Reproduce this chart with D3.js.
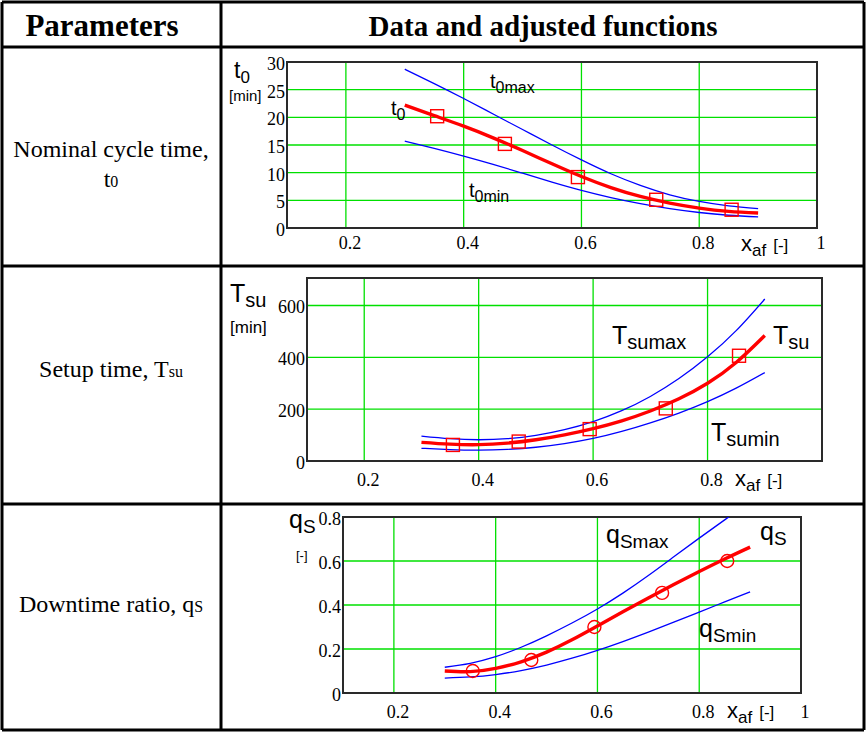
<!DOCTYPE html>
<html>
<head>
<meta charset="utf-8">
<script src="https://cdn.jsdelivr.net/npm/d3@7"></script>
<style>
  body { margin: 0; background: #ffffff; }
  svg { display: block; }
</style>
</head>
<body>
<svg id="chart" width="866" height="732"></svg>
<script>
// Valeurs
const xData = [0.355, 0.47, 0.594, 0.727, 0.855];
const xCurve = [0.3, 0.35, 0.4, 0.45, 0.5, 0.55, 0.6, 0.65, 0.7, 0.75, 0.8, 0.85, 0.9];
const xTickLabels = [0.2, 0.4, 0.6, 0.8];

// Nominal cycle time t0 [min]
const t0Data = [20.2, 15.2, 9.2, 5.1, 3.3];
const t0Fit = [22.2, 20.3, 18.4, 16.3, 14.0, 11.6, 9.3, 7.3, 5.7, 4.5, 3.6, 3.0, 2.7];
const t0Max = [28.7, 26.1, 23.4, 20.6, 17.8, 15.0, 12.3, 9.8, 7.7, 6.0, 4.8, 4.0, 3.5];
const t0Min = [15.7, 14.4, 13.0, 11.5, 9.9, 8.3, 6.8, 5.5, 4.4, 3.5, 2.8, 2.3, 2.0];
const t0Ticks = [0, 5, 10, 15, 20, 25, 30];

// Setup time Tsu [min]
const tsuData = [62, 75, 123, 203, 406];
const tsuFit = [72, 65, 63, 69, 82, 101, 125, 155, 193, 240, 300, 380, 484];
const tsuMax = [96, 86, 82, 86, 99, 121, 152, 194, 249, 318, 402, 503, 625];
const tsuMin = [49, 44, 42, 45, 53, 67, 87, 114, 147, 185, 229, 281, 341];
const tsuTicks = [0, 200, 400, 600];

// Downtime ratio qS [-]
const qsData = [0.10, 0.15, 0.30, 0.455, 0.60];
const qsFit = [0.100, 0.097, 0.112, 0.142, 0.186, 0.242, 0.305, 0.369, 0.432, 0.493, 0.552, 0.609, 0.663];
const qsMax = [0.117, 0.135, 0.165, 0.208, 0.260, 0.318, 0.382, 0.454, 0.534, 0.619, 0.704, 0.787, 0.870];
const qsMin = [0.068, 0.073, 0.084, 0.102, 0.127, 0.158, 0.194, 0.234, 0.277, 0.322, 0.368, 0.414, 0.460];
const qsTicks = [0, 0.2, 0.4, 0.6, 0.8];

const colors = {
    grid: "#00e000",
    frame: "#2a2a2a",
    fit: "#ff0000",
    bound: "#0000ff",
    table: "#000000"
};

const SERIF = '"Liberation Serif", "Times New Roman", Times, serif';
const SANS = '"Liberation Sans", Arial, Helvetica, sans-serif';

const svg = d3.select("#chart");

// Tableau
function drawTable() {
    const g = svg.append("g");
    const lines = [
        [2, 2, 864, 2], [2, 47, 864, 47], [2, 266, 864, 266], [2, 504, 864, 504], [2, 730, 864, 730],
        [2, 2, 2, 730], [864, 2, 864, 730], [221, 2, 221, 730]
    ];
    g.selectAll("line").data(lines).enter().append("line")
        .attr("x1", d => d[0]).attr("y1", d => d[1])
        .attr("x2", d => d[2]).attr("y2", d => d[3])
        .attr("stroke", colors.table).attr("stroke-width", 3);

    g.append("text").attr("font-family", SERIF).attr("x", 102).attr("y", 36)
        .attr("text-anchor", "middle").attr("font-size", 31).attr("font-weight", "bold")
        .text("Parameters");
    g.append("text").attr("font-family", SERIF).attr("x", 543).attr("y", 36)
        .attr("text-anchor", "middle").attr("font-size", 29).attr("font-weight", "bold")
        .text("Data and adjusted functions");

    const rowText = (y, main, sym, sub) => {
        const t = g.append("text").attr("font-family", SERIF).attr("x", 111).attr("y", y)
            .attr("text-anchor", "middle").attr("font-size", 24);
        t.append("tspan").text(main);
        t.append("tspan").text(sym);
        t.append("tspan").attr("font-size", 16).text(sub);
    };
    g.append("text").attr("font-family", SERIF).attr("x", 111).attr("y", 157)
        .attr("text-anchor", "middle").attr("font-size", 24).text("Nominal cycle time,");
    rowText(187, "", "t", "0");
    rowText(377, "Setup time, ", "T", "su");
    rowText(612, "Downtime ratio, ", "q", "S");
}

function labelWithSub(g, x, y, main, sub, size, subSize, dy) {
    const t = g.append("text").attr("font-family", SANS).attr("x", x).attr("y", y)
        .attr("font-size", size).attr("fill", "#000");
    t.append("tspan").text(main);
    t.append("tspan").attr("font-size", subSize).attr("dy", dy).text(sub);
    return t;
}

function drawPanel(p) {
    const g = svg.append("g");
    const x = d3.scaleLinear().domain([0.1, 1]).range([p.left, p.right]);
    const y = d3.scaleLinear().domain(p.yDomain).range([p.bottom, p.top]);

    const clipId = "clip-" + p.id;
    svg.append("clipPath").attr("id", clipId).append("rect")
        .attr("x", p.left).attr("y", p.top)
        .attr("width", p.right - p.left).attr("height", p.bottom - p.top);

    // grille
    g.selectAll(".gx").data(xTickLabels).enter().append("line")
        .attr("x1", d => x(d)).attr("x2", d => x(d))
        .attr("y1", p.top).attr("y2", p.bottom)
        .attr("stroke", colors.grid).attr("stroke-width", 1.3);
    g.selectAll(".gy").data(p.yTicks.slice(1)).enter().append("line")
        .attr("x1", p.left).attr("x2", p.right)
        .attr("y1", d => y(d)).attr("y2", d => y(d))
        .attr("stroke", colors.grid).attr("stroke-width", 1.3);

    // cadre
    g.append("rect").attr("x", p.left).attr("y", p.top)
        .attr("width", p.right - p.left).attr("height", p.bottom - p.top)
        .attr("fill", "none").attr("stroke", colors.frame).attr("stroke-width", 2);

    // graduations
    g.selectAll(".ty").data(p.yTicks).enter().append("text")
        .attr("font-family", SERIF).attr("x", p.left - 2).attr("y", d => y(d) + 8)
        .attr("text-anchor", "end").attr("font-size", 18).text(d => d);
    const xt = p.showOne ? xTickLabels.concat([1]) : xTickLabels;
    g.selectAll(".tx").data(xt).enter().append("text")
        .attr("font-family", SERIF).attr("x", d => x(d) + 4).attr("y", p.bottom + p.xLabelDy)
        .attr("text-anchor", "middle").attr("font-size", 18).text(d => d);

    // courbes
    const line = d3.line()
        .x(d => x(d[0])).y(d => y(d[1]))
        .curve(d3.curveNatural);
    const curves = g.append("g").attr("clip-path", `url(#${clipId})`);
    [p.max, p.min].forEach(vals => {
        curves.append("path").datum(xCurve.map((v, i) => [v, vals[i]]))
            .attr("d", line).attr("fill", "none")
            .attr("stroke", colors.bound).attr("stroke-width", 1.3);
    });
    curves.append("path").datum(xCurve.map((v, i) => [v, p.fit[i]]))
        .attr("d", line).attr("fill", "none")
        .attr("stroke", colors.fit).attr("stroke-width", 3.4);

    // points
    const pts = xData.map((v, i) => [v, p.data[i]]);
    if (p.marker === "square") {
        g.selectAll(".pt").data(pts).enter().append("rect")
            .attr("x", d => x(d[0]) - 6.5).attr("y", d => y(d[1]) - 6.5)
            .attr("width", 13).attr("height", 13)
            .attr("fill", "none").attr("stroke", colors.fit).attr("stroke-width", 1.4);
    } else {
        g.selectAll(".pt").data(pts).enter().append("circle")
            .attr("cx", d => x(d[0])).attr("cy", d => y(d[1])).attr("r", 6.5)
            .attr("fill", "none").attr("stroke", colors.fit).attr("stroke-width", 1.4);
    }

    // étiquettes
    p.labels.forEach(l => labelWithSub(g, l[0], l[1], l[2], l[3], p.lblSize, p.subSize, 5));
    labelWithSub(g, p.yLabel[0], p.yLabel[1], p.yLabel[2], p.yLabel[3], p.yLblSize, p.ySubSize, 5);
    g.append("text").attr("font-family", SANS).attr("x", p.unit[0]).attr("y", p.unit[1])
        .attr("font-size", p.unit[3]).text(p.unit[2]);
    const xl = labelWithSub(g, p.xLabel[0], p.xLabel[1], "x", "af", 22, 17, 5);
    xl.append("tspan").attr("font-size", 17).attr("dy", -5).attr("dx", 7).text("[-]");
}

drawTable();

drawPanel({
    id: 1, left: 287, right: 817, top: 62, bottom: 228,
    yDomain: [0, 30], yTicks: t0Ticks, xLabelDy: 21, showOne: true,
    data: t0Data, fit: t0Fit, max: t0Max, min: t0Min, marker: "square",
    lblSize: 20, subSize: 16, yLblSize: 23, ySubSize: 17,
    labels: [[490, 88, "t", "0max"], [391, 115, "t", "0"], [469, 197, "t", "0min"]],
    yLabel: [234, 78, "t", "0"], unit: [229, 101, "[min]", 15],
    xLabel: [741, 251]
});

drawPanel({
    id: 2, left: 307, right: 822, top: 278, bottom: 461,
    yDomain: [0, 706], yTicks: tsuTicks, xLabelDy: 25, showOne: false,
    data: tsuData, fit: tsuFit, max: tsuMax, min: tsuMin, marker: "square",
    lblSize: 25, subSize: 20, yLblSize: 25, ySubSize: 20,
    labels: [[612, 344, "T", "sumax"], [773, 344, "T", "su"], [711, 441, "T", "sumin"]],
    yLabel: [230, 302, "T", "su"], unit: [230, 333, "[min]", 17],
    xLabel: [735, 486]
});

drawPanel({
    id: 3, left: 343, right: 801, top: 517, bottom: 693,
    yDomain: [0, 0.8], yTicks: qsTicks, xLabelDy: 25, showOne: true,
    data: qsData, fit: qsFit, max: qsMax, min: qsMin, marker: "circle",
    lblSize: 25, subSize: 19, yLblSize: 25, ySubSize: 19,
    labels: [[606, 543, "q", "Smax"], [760, 540, "q", "S"], [699, 637, "q", "Smin"]],
    yLabel: [289, 528, "q", "S"], unit: [296, 560, "[-]", 13],
    xLabel: [727, 718]
});
</script>
</body>
</html>
